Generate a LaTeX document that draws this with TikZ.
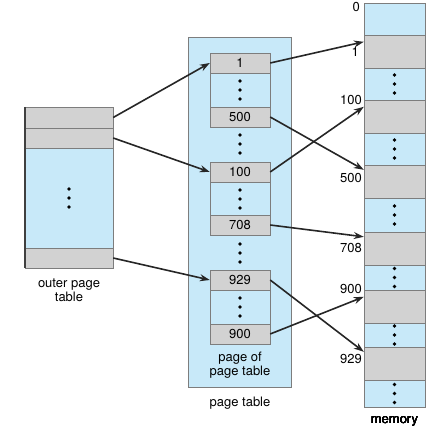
\documentclass[tikz,border=0pt]{standalone}
\usepackage{fontspec}
\setmainfont{TeX Gyre Heros}
\usetikzlibrary{arrows.meta, positioning}
\definecolor{pgblue}{RGB}{200,233,249}
\definecolor{pggray}{RGB}{210,210,210}
\definecolor{pgline}{RGB}{125,125,125}
\newcommand{\threedots}[1]{\foreach \dy in {-9,0,9} \fill (#1) ++(0,\dy) circle (1.9pt);}

\begin{document}
\begin{tikzpicture}[
    x=1pt, y=-1pt,
    ent/.style={draw=pgline, fill=pggray, minimum width=60, minimum height=20,
      inner sep=0pt, font=\fontsize{13}{14}\selectfont},
    blk/.style={draw=pgline, fill=pgblue, inner sep=0pt},
    row/.style={draw=pgline, fill=#1, minimum width=88, inner sep=0pt},
    txt/.style={align=center, font=\fontsize{13}{14}\selectfont, inner sep=0pt},
    addr/.style={anchor=east, font=\fontsize{13}{14}\selectfont, inner sep=0pt},
    arr/.style={-{Stealth[length=10pt, width=7pt]}, line width=1.6pt, draw=black!85}
  ]
    \useasboundingbox (0,0) rectangle (432,430);

    % --- outer page table ---
    \node[row=pggray, minimum height=21] (o1) at (69,117.5) {};
    \node[row=pggray, minimum height=20] (o2) at (69,138) {};
    \node[row=pgblue, minimum height=100] (o3) at (69,198) {};
    \node[row=pggray, minimum height=20] (o4) at (69,258) {};
    \draw[line width=2pt, black!75] (o1.north west) -- (o4.south west);
    \threedots{69,198}
    \node[txt] (olab) at (69,290) {outer page\\table};

    % --- page table ---
    \node[blk, minimum width=103, minimum height=350] (pt) at (239.5,212) {};
    \node[blk, minimum width=60, minimum height=74] (pg1) at (240,90) {};
    \node[blk, minimum width=60, minimum height=73] (pg2) at (240,198.5) {};
    \node[blk, minimum width=60, minimum height=74] (pg3) at (240,307) {};
    \node[ent] (e1)   at (240,63)  {1};
    \node[ent] (e500) at (240,117) {500};
    \node[ent] (e100) at (240,172) {100};
    \node[ent] (e708) at (240,225) {708};
    \node[ent] (e929) at (240,280) {929};
    \node[ent] (e900) at (240,334) {900};
    \threedots{240,90}
    \threedots{240,144}
    \threedots{240,199}
    \threedots{240,253}
    \threedots{240,307}
    \node[txt] (plab) at (240,365) {page of\\page table};
    \node[txt] (tlab) at (240,403) {page table};

    % --- memory ---
    \foreach \i/\t/\b/\c in {0/3/35/pgblue, 1/35/68/pggray, 2/68/100/pgblue,
        3/100/133/pggray, 4/133/165/pgblue, 5/165/198/pggray, 6/198/232/pgblue,
        7/232/265/pggray, 8/265/290/pgblue, 9/290/323/pggray, 10/323/347/pgblue,
        11/347/380/pggray, 12/380/407/pgblue}
      \node[draw=pgline, fill=\c, minimum width=61, minimum height=\b-\t,
        inner sep=0pt] (m\i) at (394.5,{(\t+\b)/2}) {};
    \foreach \i in {2,4,6,8,10,12}
      \threedots{m\i.center}
    \node[txt] (mlab) at (394.5,421) {memory};

    \node[addr] at (360,7)   {0};
    \node[addr] at (359,52)  {1};
    \node[addr] at (362,100) {100};
    \node[addr] at (362,178) {500};
    \node[addr] at (362,248) {708};
    \node[addr] at (362,289) {900};
    \node[addr] at (362,359) {929};

    % --- arrows ---
    \draw[arr] (o1.east) -- (e1.west);
    \draw[arr] (o2.east) -- (e100.west);
    \draw[arr] (o4.east) -- (e929.west);
    \draw[arr] (e1.east)   -- ([yshift=-7pt]m1.north west);
    \draw[arr] (e500.east) -- ([yshift=-5pt]m5.north west);
    \draw[arr] (e100.east) -- ([yshift=-7pt]m3.north west);
    \draw[arr] (e708.east) -- ([yshift=-5pt]m7.north west);
    \draw[arr] (e929.east) -- ([yshift=-5pt]m11.north west);
    \draw[arr] (e900.east) -- ([yshift=-7pt]m9.north west);
  \end{tikzpicture}
\end{document}
